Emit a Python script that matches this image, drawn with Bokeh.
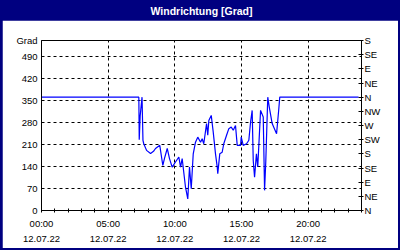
from bokeh.plotting import figure
from bokeh.layouts import column
from bokeh.models import LinearAxis, FixedTicker, Range1d
from bokeh.core.properties import value
from bokeh.embed import file_html
from bokeh.resources import INLINE

title_text = "Windrichtung [Grad]"

# wind direction (degrees) over time of day (hours)
hours = [0.0, 7.30, 7.33, 7.40, 7.54, 7.61, 7.67, 7.88, 8.18, 8.40, 8.55, 8.87,
         9.10, 9.22, 9.43, 9.60, 9.80, 10.05, 10.30, 10.43, 10.55, 10.80, 10.97,
         11.10, 11.23, 11.38, 11.55, 11.72, 11.93, 12.05, 12.17, 12.38, 12.47,
         12.55, 12.73, 12.88, 13.05, 13.18, 13.22, 13.37, 13.55, 13.67, 13.88,
         14.05, 14.23, 14.38, 14.55, 14.68, 14.93, 14.98, 15.13, 15.38, 15.55,
         15.68, 15.80, 15.88, 15.98, 16.12, 16.22, 16.43, 16.63, 16.73, 16.82,
         16.97, 17.08, 17.30, 17.63, 17.80, 17.87, 23.78]
degrees = [360, 360, 225, 300, 360, 223, 212, 191, 181, 188, 197, 207,
           143, 165, 197, 165, 138, 154, 170, 138, 165, 74, 37,
           138, 69, 180, 217, 233, 217, 228, 212, 276, 239,
           286, 302, 249, 180, 138, 117, 180, 185, 212, 239,
           260, 265, 255, 270, 207, 207, 233, 207, 212, 223,
           281, 318, 159, 106, 180, 138, 318, 297, 64, 154,
           360, 329, 276, 244, 324, 360, 360]

x_ticks = list(range(0, 25))
x_label_hours = [0, 5, 10, 15, 20]
x_labels = ["00:00\n12.07.22", "05:00\n12.07.22", "10:00\n12.07.22",
            "15:00\n12.07.22", "20:00\n12.07.22"]
x_grid = [5, 10, 15, 20]

y_ticks = [0, 70, 140, 210, 280, 350, 420, 490, 540]
y_labels = ["0", "70", "140", "210", "280", "350", "420", "490", "Grad"]
y_grid = [70, 140, 210, 280, 350, 420, 490]

dir_ticks = [0, 45, 90, 135, 180, 225, 270, 315, 360, 405, 450, 495, 540]
dir_labels = ["N", "NE", "E", "SE", "S", "SW", "W", "NW", "N", "NE", "E", "SE", "S"]

FONT = "Liberation Sans"
NAVY = "#000080"

# ---- title bar ----
tf = figure(width=396, height=20, x_range=Range1d(0, 1), y_range=Range1d(0, 1),
            output_backend="svg", toolbar_location=None, min_border=0,
            background_fill_color=NAVY, border_fill_color=NAVY,
            outline_line_color=None, x_axis_location=None, y_axis_location=None)
tf.grid.visible = False
tf.text(x=[0.5], y=[0.5], text=[title_text], text_align="center",
        text_baseline="middle", text_color="white", text_font=value(FONT),
        text_font_style="bold", text_font_size="10.5px")

# ---- main chart ----
p = figure(width=396, height=228, x_range=Range1d(0, 24), y_range=Range1d(0, 540),
           output_backend="svg", toolbar_location=None,
           min_border_left=39, min_border_right=37, min_border_top=20, min_border_bottom=38,
           background_fill_color="white", border_fill_color="white",
           outline_line_color="black", outline_line_width=1,
           x_axis_location=None, y_axis_location=None)

xax = LinearAxis(ticker=FixedTicker(ticks=x_ticks, minor_ticks=[]))
xax.major_label_overrides = {h: "" for h in x_ticks}
xax.major_label_overrides.update({h: lab for h, lab in zip(x_label_hours, x_labels)})
xax.major_tick_in = 2
xax.major_tick_out = 2
xax.minor_tick_line_color = None
xax.major_label_standoff = 5
xax.major_label_text_font = FONT
xax.major_label_text_font_size = "9.5px"
xax.major_label_text_color = "black"
xax.major_label_text_line_height = 1.45
xax.axis_line_color = "black"
p.add_layout(xax, "below")

yax = LinearAxis(ticker=FixedTicker(ticks=y_ticks, minor_ticks=[]))
yax.major_label_overrides = {t: lab for t, lab in zip(y_ticks, y_labels)}
yax.major_tick_in = 0
yax.major_tick_out = 0
yax.minor_tick_line_color = None
yax.major_label_standoff = 4
yax.major_label_text_font = FONT
yax.major_label_text_font_size = "9.5px"
yax.major_label_text_color = "black"
yax.axis_line_color = "black"
p.add_layout(yax, "left")

rax = LinearAxis(ticker=FixedTicker(ticks=dir_ticks, minor_ticks=[]))
rax.major_label_overrides = {t: lab for t, lab in zip(dir_ticks, dir_labels)}
rax.major_tick_in = 3
rax.major_tick_out = 2
rax.minor_tick_line_color = None
rax.major_label_standoff = 1
rax.major_label_text_font = FONT
rax.major_label_text_font_size = "9.5px"
rax.major_label_text_color = "black"
rax.axis_line_color = "black"
p.add_layout(rax, "right")

p.xgrid.ticker = FixedTicker(ticks=x_grid)
p.ygrid.ticker = FixedTicker(ticks=y_grid)
for g in (p.xgrid, p.ygrid):
    g.grid_line_color = "black"
    g.grid_line_dash = "3 3"
    g.grid_line_width = 1

p.line(hours, degrees, line_color="#0000ff", line_width=1.2)

layout = column(tf, p, spacing=0,
                styles={"background-color": NAVY, "padding": "0px 2px 2px 2px"})

open("out.html", "w").write(file_html(layout, INLINE))
